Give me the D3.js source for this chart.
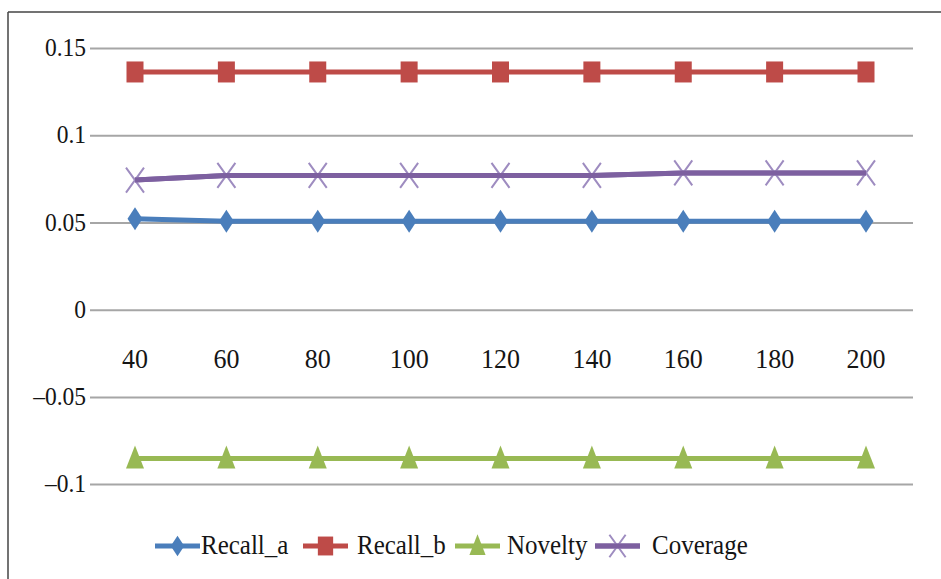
<!DOCTYPE html>
<html>
<head>
<meta charset="utf-8">
<script src="https://cdn.jsdelivr.net/npm/d3@7"></script>
<style>
  html, body { margin: 0; padding: 0; background: #fff; }
  svg { display: block; }
  text { font-family: "Liberation Serif", "Times New Roman", serif; fill: #151515; }
</style>
</head>
<body>
<svg id="chart" width="941" height="579"></svg>
<script>
// Top-N list length on the x axis
const categories = ["40", "60", "80", "100", "120", "140", "160", "180", "200"];

// Metric values per list length
const recallA  = [0.0525, 0.051, 0.051, 0.051, 0.051, 0.051, 0.051, 0.051, 0.051];
const recallB  = [0.1366, 0.1366, 0.1366, 0.1366, 0.1366, 0.1366, 0.1366, 0.1366, 0.1366];
const novelty  = [-0.085, -0.085, -0.085, -0.085, -0.085, -0.085, -0.085, -0.085, -0.085];
const coverage = [0.0746, 0.0773, 0.0773, 0.0773, 0.0773, 0.0773, 0.0787, 0.0787, 0.0787];

// y axis ticks and the labels printed beside them
const yTicks      = [0.15, 0.1, 0.05, 0, -0.05, -0.1];
const yTickLabels = ["0.15", "0.1", "0.05", "0", "\u20130.05", "\u20130.1"];

const seriesNames  = ["Recall_a", "Recall_b", "Novelty", "Coverage"];
const seriesColors = ["#4a7ebb", "#be4b48", "#98b954", "#7d60a0"];
const seriesShapes = ["diamond", "square", "triangle", "cross"];

const series = [recallA, recallB, novelty, coverage].map((values, i) => ({
  name: seriesNames[i], color: seriesColors[i], shape: seriesShapes[i], values
}));

const svg = d3.select("#chart");

// text is set a little taller than wide
function label(g, tx, ty, size, anchor, str) {
  return g.append("text")
    .attr("transform", `translate(${tx},${ty}) scale(1,1.08)`)
    .attr("text-anchor", anchor)
    .attr("font-size", size)
    .text(str);
}

// Outer frame (top and left edges visible)
svg.append("line").attr("x1", 8).attr("x2", 941).attr("y1", 12).attr("y2", 12)
  .attr("stroke", "#444").attr("stroke-width", 1.5);
svg.append("line").attr("x1", 8).attr("x2", 8).attr("y1", 12).attr("y2", 579)
  .attr("stroke", "#444").attr("stroke-width", 1.5);

const x = d3.scalePoint().domain(categories).range([135, 866]);
const y = d3.scaleLinear().domain([-0.1, 0.15]).range([484.6, 48.6]);

// Horizontal gridlines
svg.append("g").selectAll("line").data(yTicks).join("line")
  .attr("x1", 90).attr("x2", 913)
  .attr("y1", d => y(d)).attr("y2", d => y(d))
  .attr("stroke", "#a6a6a6").attr("stroke-width", 2);

// y tick labels
const gy = svg.append("g");
yTicks.forEach((d, i) => label(gy, 86, y(d) + 7.5, 23.5, "end", yTickLabels[i]));

// category labels placed between 0 and -0.05
const gx = svg.append("g");
categories.forEach(c => label(gx, x(c), 368, 26, "middle", c));

// Marker shapes (slightly taller than wide)
function marker(g, shape, color, cx, cy, s) {
  if (shape === "diamond") {
    g.append("path")
      .attr("d", `M${cx},${cy - 11.5 * s}L${cx + 7.5 * s},${cy}L${cx},${cy + 11.5 * s}L${cx - 7.5 * s},${cy}Z`)
      .attr("fill", color);
  } else if (shape === "square") {
    g.append("rect")
      .attr("x", cx - 8.5 * s).attr("y", cy - 10.5 * s)
      .attr("width", 17 * s).attr("height", 21 * s)
      .attr("fill", color);
  } else if (shape === "triangle") {
    g.append("path")
      .attr("d", `M${cx},${cy - 13 * s}L${cx + 9 * s},${cy + 10 * s}L${cx - 9 * s},${cy + 10 * s}Z`)
      .attr("fill", color);
  } else {
    g.append("path")
      .attr("d", `M${cx - 9 * s},${cy - 12.5 * s}L${cx + 9 * s},${cy + 12.5 * s}M${cx + 9 * s},${cy - 12.5 * s}L${cx - 9 * s},${cy + 12.5 * s}`)
      .attr("stroke", "#9e8cc0").attr("stroke-width", 2).attr("fill", "none");
  }
}

const line = d3.line().x((d, i) => x(categories[i])).y(d => y(d));

// Draw order: Recall_a, Recall_b, Novelty, Coverage
series.forEach(s => {
  const g = svg.append("g");
  g.append("path").attr("d", line(s.values))
    .attr("fill", "none").attr("stroke", s.color).attr("stroke-width", 5);
  s.values.forEach((v, i) => marker(g, s.shape, s.color, x(categories[i]), y(v), 1));
  if (s.shape === "cross") {
    // redraw the line over the crosses so its colour stays solid
    g.append("path").attr("d", line(s.values))
      .attr("fill", "none").attr("stroke", s.color).attr("stroke-width", 5);
  }
});

// Legend
const legendX = [155, 303, 455, 595];
const legendTextX = [201, 357, 507, 652];
const legendY = 546;
series.forEach((s, i) => {
  const g = svg.append("g");
  const x0 = legendX[i];
  g.append("line").attr("x1", x0).attr("x2", x0 + 45)
    .attr("y1", legendY).attr("y2", legendY)
    .attr("stroke", s.color).attr("stroke-width", 5);
  marker(g, s.shape, s.color, x0 + 22.5, legendY, 0.9);
  if (s.shape === "cross") {
    g.append("line").attr("x1", x0).attr("x2", x0 + 45)
      .attr("y1", legendY).attr("y2", legendY)
      .attr("stroke", s.color).attr("stroke-width", 5);
  }
  label(g, legendTextX[i], legendY + 8, 25, "start", s.name);
});
</script>
</body>
</html>
